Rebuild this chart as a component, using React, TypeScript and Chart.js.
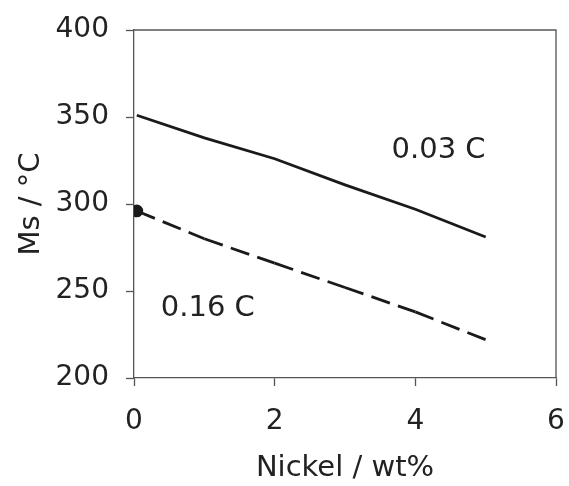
import React, { useEffect, useRef } from "react";
import { Chart, registerables } from "chart.js";

Chart.register(...registerables);

const nickel = [0.04, 1, 2, 3, 4, 5];
const ms003 = [351, 338, 326, 311, 297, 281];
const ms016 = [296, 280, 266, 252, 238, 222];
const xTicks = [0, 2, 4, 6];
const yTicks = [200, 250, 300, 350, 400];
const labels = [
  { text: "0.03 C", x: 4.33, y: 331 },
  { text: "0.16 C", x: 1.05, y: 240 },
];

const FONT = "'DejaVu Sans', Verdana, sans-serif";
const TEXT = "#222";
const AXIS = "#555";

const framePlugin = {
  id: "frame",
  afterDraw(chart: any) {
    const { ctx, chartArea, scales } = chart;
    ctx.save();
    ctx.strokeStyle = AXIS;
    ctx.lineWidth = 1.3;
    ctx.beginPath();
    ctx.moveTo(chartArea.left, chartArea.top);
    ctx.lineTo(chartArea.right, chartArea.top);
    ctx.lineTo(chartArea.right, chartArea.bottom);
    ctx.stroke();
    ctx.fillStyle = TEXT;
    ctx.font = `29px ${FONT}`;
    ctx.textAlign = "center";
    ctx.textBaseline = "middle";
    for (const l of labels) {
      ctx.fillText(l.text, scales.x.getPixelForValue(l.x), scales.y.getPixelForValue(l.y));
    }
    ctx.restore();
  },
};

export default function App() {
  const ref = useRef<HTMLCanvasElement>(null);
  useEffect(() => {
    const chart = new Chart(ref.current!, {
      type: "line",
      data: {
        datasets: [
          {
            label: "0.03 C",
            data: nickel.map((x, i) => ({ x, y: ms003[i] })),
            borderColor: "#1a1a1a",
            borderWidth: 2.8,
            pointRadius: 0,
            tension: 0,
          },
          {
            label: "0.16 C",
            data: nickel.map((x, i) => ({ x, y: ms016[i] })),
            borderColor: "#1a1a1a",
            borderWidth: 2.8,
            borderDash: [19.5, 8.5],
            pointRadius: nickel.map((_, i) => (i === 0 ? 5 : 0)),
            pointBackgroundColor: "#1a1a1a",
            pointBorderColor: "#1a1a1a",
            tension: 0,
            segment: {
              borderDashOffset: (c: any) => (c.p0DataIndex % 2 ? 0.01 : 0),
            },
          },
        ],
      },
      options: {
        animation: false,
        responsive: false,
        maintainAspectRatio: false,
        layout: { padding: { top: 30, right: 13, left: 0, bottom: 0 } },
        plugins: { legend: { display: false }, tooltip: { enabled: false } },
        scales: {
          x: {
            type: "linear",
            min: 0,
            max: 6,
            afterBuildTicks: (s: any) => {
              s.ticks = xTicks.map((v) => ({ value: v }));
            },
            afterFit: (s: any) => {
              s.height = 108;
              s.paddingLeft = 0;
              s.paddingRight = 0;
            },
            ticks: { font: { size: 28, family: FONT }, color: TEXT, padding: 19, maxRotation: 0 },
            grid: { drawOnChartArea: false, tickLength: 8, color: AXIS, tickWidth: 1.3 },
            border: { color: AXIS, width: 1.3 },
            title: {
              display: true,
              text: "Nickel / wt%",
              font: { size: 29, family: FONT },
              color: TEXT,
              padding: { top: 0, bottom: 0 },
            },
          },
          y: {
            type: "linear",
            min: 200,
            max: 400,
            afterBuildTicks: (s: any) => {
              s.ticks = yTicks.map((v) => ({ value: v }));
            },
            afterFit: (s: any) => {
              s.width = 134;
              s.paddingTop = 0;
              s.paddingBottom = 0;
            },
            ticks: { font: { size: 28, family: FONT }, color: TEXT, padding: 17 },
            grid: { drawOnChartArea: false, tickLength: 8, color: AXIS, tickWidth: 1.3 },
            border: { color: AXIS, width: 1.3 },
            title: {
              display: true,
              text: "Ms / °C",
              font: { size: 29, family: FONT },
              color: TEXT,
              padding: { top: 14, bottom: 0 },
            },
          },
        },
      },
      plugins: [framePlugin],
    });
    return () => chart.destroy();
  }, []);
  return (
    <div style={{ position: "fixed", left: 0, top: 0, width: 569, height: 486, background: "#fff" }}>
      <canvas ref={ref} width={569} height={486} style={{ width: 569, height: 486 }} />
    </div>
  );
}
